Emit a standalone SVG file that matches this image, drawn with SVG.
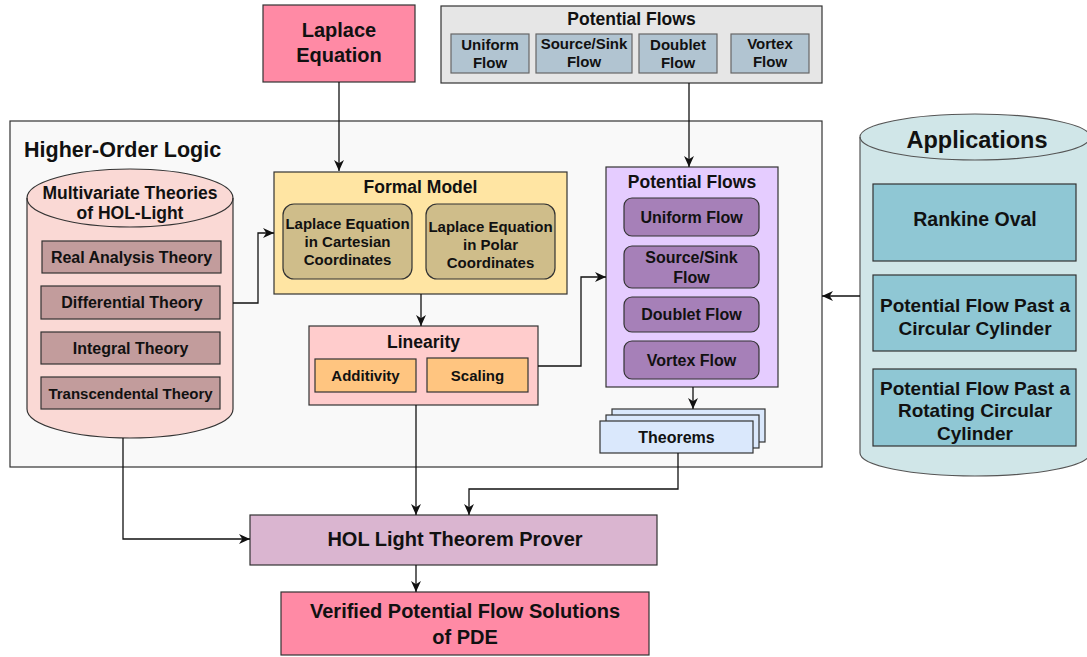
<svg xmlns="http://www.w3.org/2000/svg" width="1087" height="657" viewBox="0 0 1087 657">
<style>
text{font-family:"Liberation Sans",Arial,Helvetica,sans-serif;font-weight:bold;fill:#111;text-anchor:middle}
.b{stroke:#333;stroke-width:1.2}
.c{fill:none;stroke:#111;stroke-width:1.3}
</style>
<defs>
<marker id="ah" viewBox="0 0 10 10" refX="10" refY="5" markerWidth="11" markerHeight="11" markerUnits="userSpaceOnUse" orient="auto">
<path d="M0,0.5 L10,5 L0,9.5 L3,5 Z" fill="#111"/>
</marker>
</defs>
<rect width="1087" height="657" fill="#fff"/>

<g id="hol-container">
<rect x="10" y="121" width="812" height="346" fill="#f9f9f9" class="b"/>
<text x="24" y="157" font-size="21.5" style="text-anchor:start">Higher-Order Logic</text>
</g>

<g id="laplace">
<rect x="263" y="5" width="152" height="77" fill="#ff8aa5" class="b"/>
<text x="339" y="37" font-size="20">Laplace</text>
<text x="339" y="62" font-size="20">Equation</text>
</g>

<g id="potential-flows-top">
<rect x="441" y="6" width="381" height="77" fill="#e6e6e6" class="b"/>
<text x="631.5" y="25" font-size="17.5">Potential Flows</text>
<rect x="451" y="34" width="78" height="39" fill="#b1c4d1" stroke="#666" stroke-width="1.2"/>
<text x="490" y="50" font-size="15">Uniform</text><text x="490" y="68" font-size="15">Flow</text>
<rect x="536" y="34" width="96" height="39" fill="#b1c4d1" stroke="#666" stroke-width="1.2"/>
<text x="584" y="49" font-size="15">Source/Sink</text><text x="584" y="67" font-size="15">Flow</text>
<rect x="639" y="34" width="78" height="39" fill="#b1c4d1" stroke="#666" stroke-width="1.2"/>
<text x="678" y="50" font-size="15">Doublet</text><text x="678" y="68" font-size="15">Flow</text>
<rect x="731" y="34" width="78" height="39" fill="#b1c4d1" stroke="#666" stroke-width="1.2"/>
<text x="770" y="49" font-size="15">Vortex</text><text x="770" y="67" font-size="15">Flow</text>
</g>

<g id="multivariate">
<path d="M27,198 A103,29 0 0 1 233,198 V409 A103,29 0 0 1 27,409 Z" fill="#fad9d5" class="b"/>
<path d="M27,198 A103,29 0 0 0 233,198" fill="none" class="b"/>
<text x="130" y="199" font-size="17.5">Multivariate Theories</text>
<text x="130" y="219" font-size="17.5">of HOL-Light</text>
<rect x="42" y="241" width="179" height="32" fill="#c29c9c" class="b"/>
<text x="131.5" y="262.5" font-size="16">Real Analysis Theory</text>
<rect x="41" y="286" width="179" height="33" fill="#c29c9c" class="b"/>
<text x="132" y="308" font-size="16">Differential Theory</text>
<rect x="41" y="332" width="179" height="32" fill="#c29c9c" class="b"/>
<text x="130.5" y="353.5" font-size="16">Integral Theory</text>
<rect x="41" y="377" width="179" height="32" fill="#c29c9c" class="b"/>
<text x="130.5" y="398.5" font-size="15">Transcendental Theory</text>
</g>

<g id="formal-model">
<rect x="274" y="172" width="293" height="122" fill="#ffe5a3" class="b"/>
<text x="420.5" y="193" font-size="17.5">Formal Model</text>
<rect x="283" y="204" width="129" height="75" rx="11" fill="#cfbd8a" class="b"/>
<text x="347.5" y="228.5" font-size="15">Laplace Equation</text>
<text x="347.5" y="246.5" font-size="15">in Cartesian</text>
<text x="347.5" y="264.5" font-size="15">Coordinates</text>
<rect x="426" y="204" width="129" height="75" rx="11" fill="#cfbd8a" class="b"/>
<text x="490.5" y="231.5" font-size="15">Laplace Equation</text>
<text x="490.5" y="249.5" font-size="15">in Polar</text>
<text x="490.5" y="267.5" font-size="15">Coordinates</text>
</g>

<g id="linearity">
<rect x="309" y="326" width="229" height="79" fill="#ffcccc" class="b"/>
<text x="423.5" y="348" font-size="17.5">Linearity</text>
<rect x="315" y="359" width="101" height="33" fill="#ffc580" class="b"/>
<text x="365.5" y="381" font-size="15">Additivity</text>
<rect x="427" y="358" width="101" height="34" fill="#ffc580" class="b"/>
<text x="477.5" y="380.5" font-size="15">Scaling</text>
</g>

<g id="potential-flows">
<rect x="606" y="167" width="172" height="220" fill="#e5ccff" class="b"/>
<text x="692" y="188" font-size="17.5">Potential Flows</text>
<rect x="624" y="198" width="135" height="38" rx="8" fill="#a680b8" class="b"/>
<text x="691.5" y="223" font-size="16">Uniform Flow</text>
<rect x="624" y="246" width="135" height="42" rx="8" fill="#a680b8" class="b"/>
<text x="691.5" y="263" font-size="16">Source/Sink</text>
<text x="691.5" y="283" font-size="16">Flow</text>
<rect x="624" y="297" width="135" height="35" rx="8" fill="#a680b8" class="b"/>
<text x="691.5" y="320" font-size="16">Doublet Flow</text>
<rect x="624" y="341" width="135" height="38" rx="8" fill="#a680b8" class="b"/>
<text x="691.5" y="366" font-size="16">Vortex Flow</text>
</g>

<g id="theorems">
<rect x="612" y="409" width="153" height="33" fill="#dae8fc" class="b"/>
<rect x="606" y="415" width="153" height="33" fill="#dae8fc" class="b"/>
<rect x="600" y="421" width="153" height="32" fill="#dae8fc" class="b"/>
<text x="676.5" y="443" font-size="16">Theorems</text>
</g>

<g id="applications">
<path d="M860,137 A115,23 0 0 1 1090,137 V453 A115,23 0 0 1 860,453 Z" fill="#d0e6e8" stroke="#555" stroke-width="1.2"/>
<path d="M860,137 A115,23 0 0 0 1090,137" fill="none" stroke="#555" stroke-width="1.2"/>
<text x="977" y="148" font-size="23.5">Applications</text>
<rect x="873" y="184" width="203" height="77" fill="#8fc7d4" class="b"/>
<text x="975" y="226" font-size="19.5">Rankine Oval</text>
<rect x="873" y="275" width="203" height="76" fill="#8fc7d4" class="b"/>
<text x="975" y="311.5" font-size="19">Potential Flow Past a</text>
<text x="975" y="334.5" font-size="19">Circular Cylinder</text>
<rect x="873" y="369" width="203" height="77" fill="#8fc7d4" class="b"/>
<text x="975" y="394.5" font-size="19">Potential Flow Past a</text>
<text x="975" y="417" font-size="19">Rotating Circular</text>
<text x="975" y="439.5" font-size="19">Cylinder</text>
</g>

<g id="hol-prover">
<rect x="250" y="515" width="407" height="50" fill="#dab5d0" class="b"/>
<text x="455" y="546" font-size="20">HOL Light Theorem Prover</text>
</g>

<g id="verified">
<rect x="281" y="592" width="368" height="63" fill="#ff8aa5" class="b"/>
<text x="465" y="618" font-size="20">Verified Potential Flow Solutions</text>
<text x="465" y="644" font-size="20">of PDE</text>
</g>

<g id="connectors">
<path class="c" d="M339,82 V171" marker-end="url(#ah)"/>
<path class="c" d="M689,83 V167" marker-end="url(#ah)"/>
<path class="c" d="M233,303 H258 V233 H274" marker-end="url(#ah)"/>
<path class="c" d="M421,294 V326" marker-end="url(#ah)"/>
<path class="c" d="M538,366 H581 V277 H606" marker-end="url(#ah)"/>
<path class="c" d="M693,387 V409" marker-end="url(#ah)"/>
<path class="c" d="M860,296 H822" marker-end="url(#ah)"/>
<path class="c" d="M123,438 V539 H250" marker-end="url(#ah)"/>
<path class="c" d="M416,405 V515" marker-end="url(#ah)"/>
<path class="c" d="M678,453 V489 H469 V515" marker-end="url(#ah)"/>
<path class="c" d="M416,565 V592" marker-end="url(#ah)"/>
</g>
</svg>
